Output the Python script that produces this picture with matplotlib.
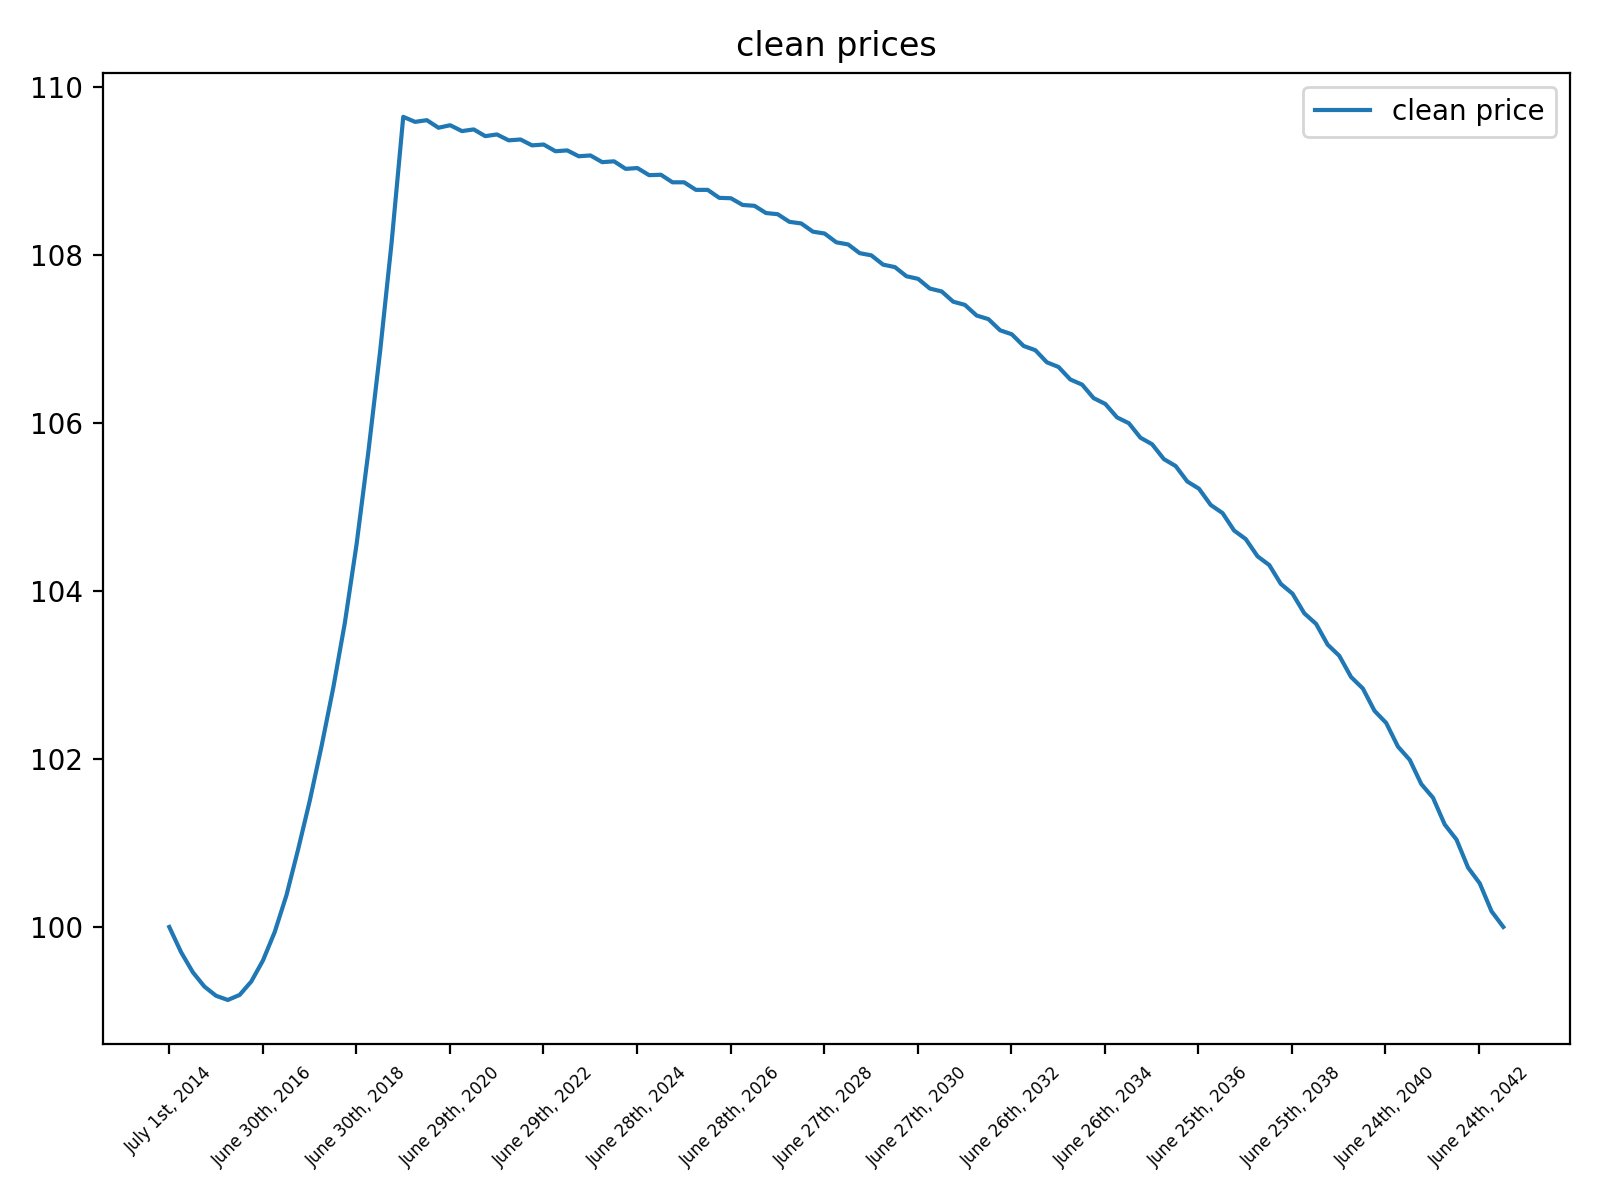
import numpy as np
import pandas as pd
import matplotlib
matplotlib.use('Agg')
import matplotlib.pyplot as plt

# smooth part before the first coupon (quarterly readings)
early_dates = ['2014-07-01', '2014-10-01', '2015-01-01', '2015-04-01', '2015-07-01',
               '2015-10-01', '2016-01-01', '2016-04-01', '2016-07-01', '2016-10-01',
               '2017-01-01', '2017-04-01', '2017-07-01', '2017-10-01', '2018-01-01',
               '2018-04-01', '2018-07-01', '2018-10-01', '2019-01-01', '2019-04-01']
early_price = [100.00, 99.70, 99.46, 99.29, 99.18,
               99.13, 99.19, 99.35, 99.60, 99.94,
               100.38, 100.92, 101.50, 102.15, 102.85,
               103.62, 104.55, 105.65, 106.85, 108.15]

# clean price on coupon dates (semi-annual, 2019-07 .. 2043-01)
coupon_price = [109.65, 109.61, 109.55, 109.50, 109.44, 109.38, 109.32, 109.25,
                109.19, 109.12, 109.04, 108.96, 108.87, 108.78, 108.68, 108.59,
                108.49, 108.38, 108.26, 108.13, 108.00, 107.86, 107.72, 107.57,
                107.41, 107.24, 107.06, 106.87, 106.67, 106.46, 106.23, 106.00,
                105.75, 105.49, 105.22, 104.93, 104.62, 104.31, 103.97, 103.61,
                103.23, 102.84, 102.43, 101.99, 101.54, 101.04, 100.52, 100.00]

# clean price half way between coupon dates
mid_price = [109.59, 109.52, 109.48, 109.42, 109.37, 109.31, 109.24, 109.18,
             109.11, 109.03, 108.955, 108.87, 108.78, 108.685, 108.60, 108.504,
             108.399, 108.282, 108.155, 108.026, 107.889, 107.751, 107.604, 107.448,
             107.283, 107.107, 106.921, 106.726, 106.521, 106.299, 106.069, 105.828,
             105.573, 105.306, 105.026, 104.722, 104.415, 104.086, 103.736, 103.363,
             102.977, 102.574, 102.148, 101.702, 101.22, 100.707, 100.187]

tick_labels = ['July 1st, 2014', 'June 30th, 2016', 'June 30th, 2018', 'June 29th, 2020',
               'June 29th, 2022', 'June 28th, 2024', 'June 28th, 2026', 'June 27th, 2028',
               'June 27th, 2030', 'June 26th, 2032', 'June 26th, 2034', 'June 25th, 2036',
               'June 25th, 2038', 'June 24th, 2040', 'June 24th, 2042']

coupon_dates = pd.date_range('2019-07-01', periods=len(coupon_price), freq='6MS')
mid_dates = coupon_dates[:-1] + pd.DateOffset(months=3)

# interleave coupon and mid-period points
dates = list(pd.to_datetime(early_dates))
prices = list(early_price)
for i in range(len(mid_price)):
    dates += [coupon_dates[i], mid_dates[i]]
    prices += [coupon_price[i], mid_price[i]]
dates.append(coupon_dates[-1])
prices.append(coupon_price[-1])

fig, ax = plt.subplots(figsize=(8, 6), dpi=200)
ax.plot(dates, prices, label='clean price')

start = pd.Timestamp('2014-07-01')
ticks = [start + pd.Timedelta(days=730 * k) for k in range(len(tick_labels))]
ax.set_xticks(ticks)
ax.set_xticklabels(tick_labels, rotation=45, fontsize=6)

ax.set_title('clean prices')
ax.legend(loc='upper right')
plt.tight_layout()
plt.savefig('out.png')
